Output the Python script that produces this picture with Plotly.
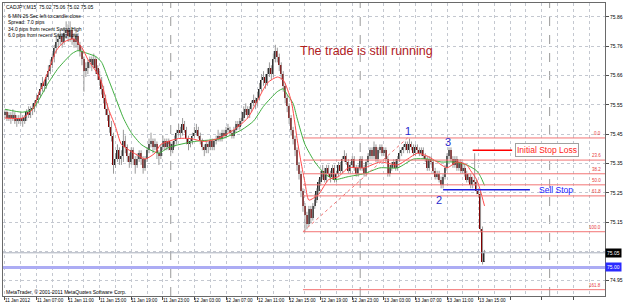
import plotly.graph_objects as go

# ---------------- data ----------------
opens = [
    75.52, 75.53, 75.51, 75.52, 75.51, 75.52, 75.50, 75.51, 75.50, 75.51,
    75.50, 75.51, 75.53, 75.52, 75.54, 75.54, 75.56, 75.57, 75.59, 75.61,
    75.63, 75.62, 75.65, 75.67, 75.69, 75.72, 75.75, 75.77, 75.78, 75.79,
    75.77, 75.80, 75.81, 75.79, 75.81, 75.78, 75.77, 75.79, 75.76, 75.74,
    75.71, 75.67, 75.68, 75.70, 75.71, 75.69, 75.71, 75.68, 75.66, 75.64,
    75.61, 75.58, 75.54, 75.52, 75.48, 75.45, 75.35, 75.37, 75.40, 75.37,
    75.38, 75.43, 75.41, 75.38, 75.36, 75.40, 75.37, 75.35, 75.37, 75.39,
    75.37, 75.34, 75.37, 75.40, 75.42, 75.43, 75.41, 75.42, 75.39, 75.38,
    75.41, 75.43, 75.41, 75.43, 75.42, 75.40, 75.42, 75.43, 75.46, 75.47,
    75.46, 75.49, 75.47, 75.44, 75.42, 75.43, 75.45, 75.46, 75.47, 75.45,
    75.43, 75.41, 75.40, 75.42, 75.41, 75.43, 75.41, 75.43, 75.44, 75.45,
    75.44, 75.46, 75.45, 75.47, 75.47, 75.46, 75.45, 75.47, 75.49, 75.48,
    75.50, 75.51, 75.53, 75.54, 75.52, 75.54, 75.56, 75.57, 75.56, 75.58,
    75.61, 75.64, 75.65, 75.63, 75.66, 75.68, 75.66, 75.71, 75.74, 75.72,
    75.69, 75.66, 75.62, 75.58, 75.55, 75.51, 75.47, 75.44, 75.40, 75.35,
    75.32, 75.26, 75.21, 75.18, 75.15, 75.20, 75.17, 75.21, 75.23, 75.26,
    75.29, 75.31, 75.33, 75.30, 75.34, 75.32, 75.31, 75.34, 75.30, 75.32,
    75.35, 75.33, 75.37, 75.38, 75.36, 75.33, 75.35, 75.37, 75.34, 75.32,
    75.34, 75.37, 75.34, 75.32, 75.36, 75.38, 75.40, 75.38, 75.41, 75.37,
    75.40, 75.41, 75.39, 75.40, 75.37, 75.32, 75.34, 75.35, 75.36, 75.34,
    75.37, 75.39, 75.40, 75.41, 75.42, 75.40, 75.42, 75.41, 75.39, 75.41,
    75.40, 75.39, 75.40, 75.38, 75.37, 75.34, 75.37, 75.36, 75.33, 75.31,
    75.32, 75.30, 75.28, 75.31, 75.34, 75.38, 75.40, 75.37, 75.35, 75.37,
    75.34, 75.36, 75.33, 75.34, 75.32, 75.30, 75.31, 75.28, 75.30, 75.29,
    75.26, 75.25, 75.13, 75.02,
]
highs = [
    75.54, 75.54, 75.53, 75.53, 75.54, 75.53, 75.52, 75.52, 75.53, 75.52,
    75.52, 75.54, 75.55, 75.55, 75.56, 75.57, 75.59, 75.60, 75.63, 75.65,
    75.64, 75.66, 75.69, 75.71, 75.73, 75.76, 75.79, 75.80, 75.81, 75.80,
    75.82, 75.84, 75.83, 75.84, 75.82, 75.80, 75.81, 75.80, 75.77, 75.75,
    75.72, 75.70, 75.71, 75.72, 75.72, 75.73, 75.72, 75.69, 75.67, 75.65,
    75.62, 75.59, 75.56, 75.53, 75.50, 75.46, 75.39, 75.42, 75.41, 75.40,
    75.47, 75.45, 75.42, 75.39, 75.41, 75.41, 75.38, 75.39, 75.40, 75.40,
    75.38, 75.38, 75.41, 75.44, 75.46, 75.44, 75.44, 75.43, 75.40, 75.42,
    75.45, 75.44, 75.44, 75.44, 75.43, 75.43, 75.45, 75.47, 75.49, 75.48,
    75.51, 75.50, 75.48, 75.45, 75.44, 75.46, 75.48, 75.49, 75.48, 75.46,
    75.44, 75.42, 75.43, 75.43, 75.44, 75.44, 75.44, 75.45, 75.47, 75.46,
    75.47, 75.47, 75.48, 75.49, 75.48, 75.47, 75.48, 75.50, 75.50, 75.51,
    75.53, 75.55, 75.56, 75.55, 75.55, 75.57, 75.59, 75.58, 75.60, 75.63,
    75.66, 75.67, 75.66, 75.68, 75.70, 75.69, 75.73, 75.76, 75.75, 75.73,
    75.70, 75.67, 75.63, 75.59, 75.56, 75.52, 75.48, 75.45, 75.41, 75.36,
    75.33, 75.27, 75.22, 75.19, 75.21, 75.21, 75.22, 75.25, 75.27, 75.30,
    75.33, 75.35, 75.34, 75.35, 75.35, 75.33, 75.35, 75.35, 75.33, 75.36,
    75.36, 75.38, 75.40, 75.39, 75.37, 75.36, 75.38, 75.38, 75.35, 75.35,
    75.38, 75.38, 75.35, 75.37, 75.39, 75.41, 75.41, 75.43, 75.42, 75.41,
    75.42, 75.42, 75.41, 75.41, 75.38, 75.35, 75.36, 75.37, 75.37, 75.38,
    75.40, 75.41, 75.42, 75.43, 75.43, 75.44, 75.43, 75.42, 75.42, 75.42,
    75.41, 75.41, 75.41, 75.39, 75.38, 75.38, 75.38, 75.37, 75.34, 75.33,
    75.33, 75.31, 75.32, 75.35, 75.39, 75.41, 75.41, 75.38, 75.38, 75.38,
    75.37, 75.37, 75.36, 75.35, 75.33, 75.32, 75.32, 75.31, 75.39, 75.30,
    75.27, 75.26, 75.14, 75.06,
]
lows = [
    75.51, 75.50, 75.50, 75.49, 75.50, 75.49, 75.48, 75.49, 75.49, 75.48,
    75.49, 75.50, 75.51, 75.51, 75.52, 75.53, 75.55, 75.56, 75.58, 75.60,
    75.60, 75.61, 75.64, 75.66, 75.68, 75.70, 75.73, 75.75, 75.76, 75.75,
    75.76, 75.78, 75.77, 75.77, 75.76, 75.75, 75.75, 75.74, 75.72, 75.69,
    75.60, 75.65, 75.66, 75.68, 75.67, 75.68, 75.66, 75.64, 75.62, 75.59,
    75.56, 75.52, 75.50, 75.46, 75.43, 75.32, 75.34, 75.36, 75.35, 75.35,
    75.36, 75.39, 75.36, 75.34, 75.35, 75.35, 75.32, 75.34, 75.36, 75.35,
    75.32, 75.33, 75.36, 75.39, 75.41, 75.39, 75.40, 75.37, 75.35, 75.37,
    75.40, 75.40, 75.40, 75.40, 75.38, 75.39, 75.41, 75.42, 75.45, 75.44,
    75.45, 75.46, 75.42, 75.40, 75.41, 75.42, 75.44, 75.45, 75.44, 75.42,
    75.40, 75.38, 75.39, 75.39, 75.40, 75.40, 75.40, 75.42, 75.43, 75.43,
    75.43, 75.44, 75.44, 75.46, 75.45, 75.44, 75.44, 75.46, 75.47, 75.47,
    75.49, 75.50, 75.52, 75.51, 75.51, 75.53, 75.55, 75.54, 75.55, 75.57,
    75.60, 75.62, 75.61, 75.62, 75.65, 75.64, 75.65, 75.70, 75.70, 75.67,
    75.64, 75.60, 75.56, 75.53, 75.49, 75.45, 75.42, 75.38, 75.33, 75.30,
    75.24, 75.19, 75.12, 75.13, 75.14, 75.15, 75.16, 75.20, 75.22, 75.25,
    75.28, 75.30, 75.29, 75.29, 75.31, 75.29, 75.30, 75.29, 75.29, 75.31,
    75.32, 75.32, 75.36, 75.35, 75.32, 75.32, 75.34, 75.33, 75.31, 75.31,
    75.33, 75.33, 75.31, 75.31, 75.35, 75.37, 75.37, 75.37, 75.36, 75.36,
    75.39, 75.38, 75.38, 75.36, 75.31, 75.31, 75.33, 75.34, 75.33, 75.33,
    75.36, 75.38, 75.39, 75.40, 75.39, 75.39, 75.40, 75.38, 75.38, 75.39,
    75.38, 75.38, 75.37, 75.36, 75.33, 75.33, 75.35, 75.32, 75.30, 75.30,
    75.29, 75.27, 75.27, 75.30, 75.33, 75.37, 75.36, 75.34, 75.34, 75.33,
    75.33, 75.32, 75.32, 75.31, 75.29, 75.29, 75.27, 75.27, 75.28, 75.25,
    75.24, 75.12, 75.01, 75.02,
]
closes = [
    75.53, 75.51, 75.52, 75.51, 75.52, 75.50, 75.51, 75.50, 75.51, 75.50,
    75.51, 75.53, 75.52, 75.54, 75.54, 75.56, 75.57, 75.59, 75.61, 75.63,
    75.62, 75.65, 75.67, 75.69, 75.72, 75.75, 75.77, 75.78, 75.79, 75.77,
    75.80, 75.81, 75.79, 75.81, 75.78, 75.77, 75.79, 75.76, 75.74, 75.71,
    75.67, 75.68, 75.70, 75.71, 75.69, 75.71, 75.68, 75.66, 75.64, 75.61,
    75.58, 75.54, 75.52, 75.48, 75.45, 75.35, 75.37, 75.40, 75.37, 75.38,
    75.43, 75.41, 75.38, 75.36, 75.40, 75.37, 75.35, 75.37, 75.39, 75.37,
    75.34, 75.37, 75.40, 75.42, 75.43, 75.41, 75.42, 75.39, 75.38, 75.41,
    75.43, 75.41, 75.43, 75.42, 75.40, 75.42, 75.43, 75.46, 75.47, 75.46,
    75.49, 75.47, 75.44, 75.42, 75.43, 75.45, 75.46, 75.47, 75.45, 75.43,
    75.41, 75.40, 75.42, 75.41, 75.43, 75.41, 75.43, 75.44, 75.45, 75.44,
    75.46, 75.45, 75.47, 75.47, 75.46, 75.45, 75.47, 75.49, 75.48, 75.50,
    75.51, 75.53, 75.54, 75.52, 75.54, 75.56, 75.57, 75.56, 75.58, 75.61,
    75.64, 75.65, 75.63, 75.66, 75.68, 75.66, 75.71, 75.74, 75.72, 75.69,
    75.66, 75.62, 75.58, 75.55, 75.51, 75.47, 75.44, 75.40, 75.35, 75.32,
    75.26, 75.21, 75.18, 75.15, 75.20, 75.17, 75.21, 75.23, 75.26, 75.29,
    75.31, 75.33, 75.30, 75.34, 75.32, 75.31, 75.34, 75.30, 75.32, 75.35,
    75.33, 75.37, 75.38, 75.36, 75.33, 75.35, 75.37, 75.34, 75.32, 75.34,
    75.37, 75.34, 75.32, 75.36, 75.38, 75.40, 75.38, 75.41, 75.37, 75.40,
    75.41, 75.39, 75.40, 75.37, 75.32, 75.34, 75.35, 75.36, 75.34, 75.37,
    75.39, 75.40, 75.41, 75.42, 75.40, 75.42, 75.41, 75.39, 75.41, 75.40,
    75.39, 75.40, 75.38, 75.37, 75.34, 75.37, 75.36, 75.33, 75.31, 75.32,
    75.30, 75.28, 75.31, 75.34, 75.38, 75.40, 75.37, 75.35, 75.37, 75.34,
    75.36, 75.33, 75.34, 75.32, 75.30, 75.31, 75.28, 75.30, 75.29, 75.26,
    75.25, 75.13, 75.02, 75.05,
]
bar_index = list(range(len(closes)))

# moving averages (at selected bars)
fast_ma_bars = [0, 9, 14, 17, 22, 26, 30, 35, 39, 42, 47, 49, 52, 56, 59, 63, 68, 71, 76, 79,
                88, 94, 101, 108, 116, 123, 128, 133, 138, 141, 145, 148, 150, 152, 154, 159,
                164, 169, 174, 182, 190, 199, 204, 209, 214, 219, 224, 229, 234, 236, 239, 241, 243]
fast_ma_vals = [75.51, 75.51, 75.54, 75.59, 75.67, 75.74, 75.77, 75.78, 75.75, 75.71,
                75.66, 75.63, 75.55, 75.48, 75.42, 75.40, 75.38, 75.37, 75.39, 75.42,
                75.44, 75.44, 75.43, 75.44, 75.47, 75.51, 75.57, 75.63, 75.65, 75.64,
                75.57, 75.44, 75.36, 75.29, 75.23, 75.25, 75.30, 75.31, 75.34, 75.34,
                75.36, 75.35, 75.37, 75.39, 75.38, 75.36, 75.34, 75.36, 75.35, 75.33,
                75.30, 75.26, 75.21]
slow_ma_bars = [0, 9, 14, 17, 22, 27, 34, 37, 42, 46, 49, 52, 56, 60, 64, 69, 74, 78, 83, 96,
                110, 120, 126, 131, 138, 141, 143, 146, 148, 152, 157, 162, 167, 174, 182,
                190, 199, 207, 214, 221, 227, 234, 239, 241, 243]
slow_ma_vals = [75.54, 75.53, 75.54, 75.57, 75.63, 75.68, 75.73, 75.74, 75.73, 75.72,
                75.70, 75.65, 75.58, 75.51, 75.46, 75.42, 75.40, 75.39, 75.41, 75.43,
                75.44, 75.47, 75.50, 75.55, 75.60, 75.61, 75.59, 75.56, 75.51, 75.42,
                75.36, 75.32, 75.30, 75.31, 75.32, 75.34, 75.34, 75.37, 75.37, 75.36,
                75.36, 75.35, 75.33, 75.31, 75.28]

time_label_bars = [0, 16, 32, 48, 64, 80, 96, 112, 128, 144, 160, 176, 192, 208, 224, 240]
time_labels = ["11 Jan 2012", "11 Jan 07:00", "11 Jan 11:00", "11 Jan 15:00", "11 Jan 19:00",
               "11 Jan 23:00", "12 Jan 03:00", "12 Jan 07:00", "12 Jan 11:00", "12 Jan 15:00",
               "12 Jan 19:00", "12 Jan 23:00", "13 Jan 03:00", "13 Jan 07:00", "13 Jan 11:00",
               "13 Jan 15:00"]
day_separator_bars = [84, 180, 276]

# the 75.05 level is labelled by the bid box on the axis
price_ticks = [75.855, 75.755, 75.655, 75.555, 75.455, 75.355, 75.255, 75.155, 75.055, 74.955]
price_tick_text = ["75.86", "75.76", "75.66", "75.55", "75.45", "75.35", "75.25", "75.15", "", "74.95"]

fib_high = 75.442
fib_low = 75.122
fib_low_bar = 151
fib_high_bar = 204
fib_ratios = [0.0, 0.236, 0.382, 0.5, 0.618, 1.0, 1.618]
fib_labels = ["0.0", "23.6", "38.2", "50.0", "61.8", "100.0", "161.8"]

stop_loss_price = 75.40
stop_loss_bars = [237, 257]
sell_stop_price = 75.265
sell_stop_bars = [222, 266]
alert_price = 75.00
bid_price = 75.05

info_lines = ["6 MIN 26 Sec left to candle close", "Spread: 7.0 pips",
              "34.0 pips from recent Swing High", "6.0 pips from recent Swing Low"]

for arr in (opens, highs, lows):
    assert len(arr) == len(closes)

# ---------------- layout constants ----------------
W, H = 625, 305
ML, MR, MT, MB = 2, 19, 2, 9
PW, PH = W - ML - MR, H - MT - MB
X0, X1 = -1.0, 304.05
Y0, Y1 = 74.9026, 75.9026
GRID = "#c4c8d0"
FONT = "Liberation Sans, Arial, sans-serif"


def px_x(px):
    return (px - ML) / PW


def px_y(py):
    return (H - MB - py) / PH


fig = go.Figure()

# wicks
wx, wy = [], []
for i, lo, hi in zip(bar_index, lows, highs):
    wx += [i, i, None]
    wy += [lo, hi, None]
fig.add_trace(go.Scatter(x=wx, y=wy, mode="lines", line=dict(color="#9a9a9a", width=1),
                         hoverinfo="skip"))

# bodies
base = [min(o, c) for o, c in zip(opens, closes)]
height = [max(abs(c - o), 0.004) for o, c in zip(opens, closes)]
colors = ["#262626" if c >= o else "#800000" for o, c in zip(opens, closes)]
fig.add_trace(go.Bar(x=bar_index, base=base, y=height, width=0.8,
                     marker=dict(color=colors, line=dict(width=0)), hoverinfo="skip"))

# moving averages
fig.add_trace(go.Scatter(x=slow_ma_bars, y=slow_ma_vals, mode="lines",
                         line=dict(color="#3fae3f", width=1, shape="spline", smoothing=0.6)))
fig.add_trace(go.Scatter(x=fast_ma_bars, y=fast_ma_vals, mode="lines",
                         line=dict(color="#ff4a4a", width=1, shape="spline", smoothing=0.6)))

shapes = []
# day separators
for b in day_separator_bars:
    shapes.append(dict(type="line", xref="x", yref="paper", x0=b, x1=b, y0=0, y1=1,
                       line=dict(color="#9a9a9a", width=1, dash="dash"), layer="below"))
# bid line & alert line
shapes.append(dict(type="line", xref="paper", yref="y", x0=0, x1=1, y0=bid_price, y1=bid_price,
                   line=dict(color="#a9aebb", width=1)))
shapes.append(dict(type="line", xref="paper", yref="y", x0=0, x1=1, y0=alert_price, y1=alert_price,
                   line=dict(color="#acacf4", width=3)))
# fibonacci
fib_levels = [fib_high - r * (fib_high - fib_low) for r in fib_ratios]
for lvl in fib_levels:
    shapes.append(dict(type="line", xref="x", yref="y", x0=fib_low_bar, x1=X1, y0=lvl, y1=lvl,
                       line=dict(color="#f27474", width=1)))
shapes.append(dict(type="line", xref="x", yref="y", x0=fib_low_bar, x1=fib_high_bar,
                   y0=fib_low, y1=fib_high, line=dict(color="#f27474", width=1, dash="dot")))
# stop loss and sell stop lines
shapes.append(dict(type="line", xref="x", yref="y", x0=stop_loss_bars[0], x1=stop_loss_bars[1],
                   y0=stop_loss_price, y1=stop_loss_price, line=dict(color="#ff0000", width=1.5)))
shapes.append(dict(type="line", xref="x", yref="y", x0=sell_stop_bars[0], x1=sell_stop_bars[1],
                   y0=sell_stop_price, y1=sell_stop_price, line=dict(color="#2020e0", width=1.5)))

ann = []
# top-left info
ann.append(dict(xref="paper", yref="paper", x=px_x(3), y=px_y(6), xanchor="left", yanchor="middle",
                text="CADJPY,M15&nbsp;&nbsp;75.02 75.06 75.02 75.05", showarrow=False,
                font=dict(size=5, color="#000000", family=FONT)))
for k, line in enumerate(info_lines):
    ann.append(dict(xref="paper", yref="paper", x=px_x(5), y=px_y(15 + 6.3 * k), xanchor="left",
                    yanchor="middle", text=line, showarrow=False,
                    font=dict(size=5, color="#000000", family=FONT)))
ann.append(dict(xref="paper", yref="paper", x=px_x(3), y=px_y(291.5), xanchor="left", yanchor="middle",
                text="MetaTrader, © 2001-2011 MetaQuotes Software Corp.", showarrow=False,
                font=dict(size=5, color="#000000", family=FONT)))
# time labels
for b, t in zip(time_label_bars, time_labels):
    ann.append(dict(xref="x", yref="paper", x=b, y=px_y(301), xanchor="left", yanchor="middle",
                    xshift=-2, text=t, showarrow=False,
                    font=dict(size=4.6, color="#000000", family=FONT)))
# fib labels
for lvl, lab in zip(fib_levels, fib_labels):
    ann.append(dict(xref="paper", yref="y", x=px_x(604), y=lvl, xanchor="right", yanchor="bottom",
                    text=lab, showarrow=False, font=dict(size=4.5, color="#e83c3c", family=FONT)))
# main text
ann.append(dict(xref="x", yref="y", x=148.5, y=75.74, xanchor="left", yanchor="middle",
                text="The trade is still running", showarrow=False,
                font=dict(size=12.5, color="#b0201e", family=FONT)))
ann.append(dict(xref="x", yref="y", x=204, y=75.465, text="1", showarrow=False,
                font=dict(size=11, color="#2828cc", family=FONT)))
ann.append(dict(xref="x", yref="y", x=224.5, y=75.427, text="3", showarrow=False,
                font=dict(size=11, color="#2828cc", family=FONT)))
ann.append(dict(xref="x", yref="y", x=220, y=75.229, text="2", showarrow=False,
                font=dict(size=11, color="#2828cc", family=FONT)))
ann.append(dict(xref="x", yref="y", x=274.5, y=stop_loss_price, text="Initial Stop Loss",
                showarrow=False, bordercolor="#a0a0a0", borderwidth=1, borderpad=1,
                bgcolor="#ffffff", font=dict(size=8.5, color="#ff1a1a", family=FONT)))
ann.append(dict(xref="x", yref="y", x=269.5, y=sell_stop_price, xanchor="left", yanchor="middle",
                text="Sell Stop", showarrow=False, font=dict(size=8.5, color="#1a1aff", family=FONT)))
# price boxes on the axis
ann.append(dict(xref="paper", yref="y", x=px_x(606.5), y=bid_price, xanchor="left", yanchor="middle",
                text="75.05", showarrow=False, bgcolor="#000000", borderpad=1,
                font=dict(size=5, color="#ffffff", family=FONT)))
ann.append(dict(xref="paper", yref="y", x=px_x(606.5), y=alert_price, xanchor="left", yanchor="middle",
                text="75.00", showarrow=False, bgcolor="#2a2aff", borderpad=1,
                font=dict(size=5, color="#ffffff", family=FONT)))

fig.update_layout(
    width=W, height=H, margin=dict(l=ML, r=MR, t=MT, b=MB, pad=0),
    paper_bgcolor="#ffffff", plot_bgcolor="#ffffff", showlegend=False, hovermode=False,
    shapes=shapes, annotations=ann, bargap=0,
    xaxis=dict(range=[X0, X1], showticklabels=False, tickmode="array",
               tickvals=list(range(0, 304, 16)), ticks="outside", ticklen=3, tickcolor="#505050",
               showgrid=True, gridcolor=GRID, griddash="dot", gridwidth=1,
               minor=dict(tickmode="linear", tick0=0, dtick=8, showgrid=True, gridcolor=GRID,
                          griddash="dot", gridwidth=1, ticks=""),
               showline=True, linecolor="#6a6a6a", linewidth=1, mirror=True, zeroline=False),
    yaxis=dict(range=[Y0, Y1], side="right", tickmode="array", tickvals=price_ticks,
               ticktext=price_tick_text, ticks="outside", ticklen=3, tickcolor="#505050",
               tickfont=dict(size=5, color="#000000", family=FONT),
               showgrid=True, gridcolor=GRID, griddash="dot", gridwidth=1,
               showline=True, linecolor="#6a6a6a", linewidth=1, mirror=True, zeroline=False),
)

fig.write_html("out.html")
